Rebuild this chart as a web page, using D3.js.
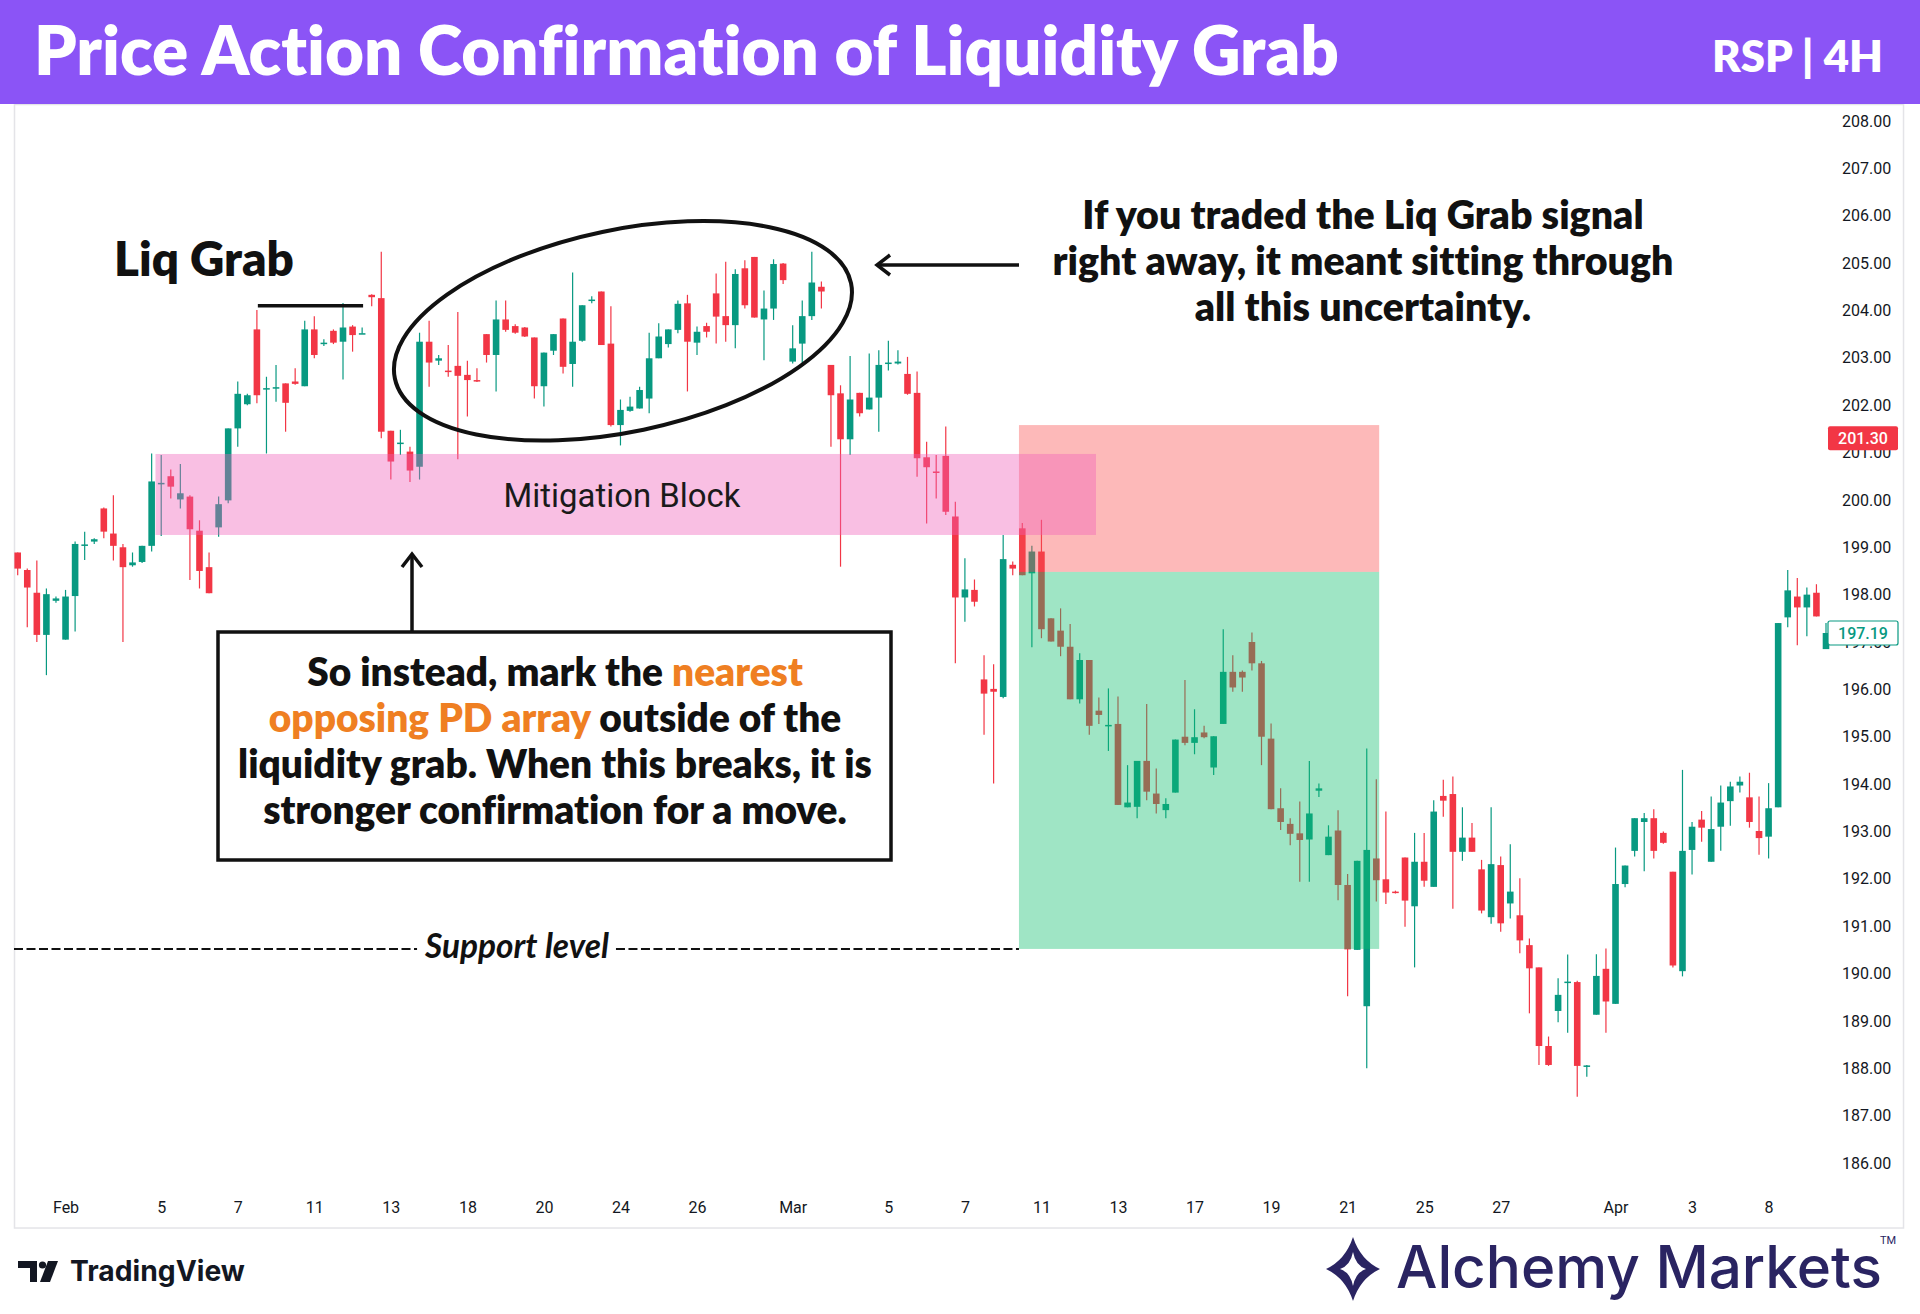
<!DOCTYPE html>
<html>
<head>
<meta charset="utf-8">
<script src="https://cdnjs.cloudflare.com/ajax/libs/d3/7.8.5/d3.min.js"></script>
<style>
  body { margin: 0; background: #fff; }
  svg { display: block; }
  text { white-space: pre; font-variant-ligatures: none; }
</style>
</head>
<body>
<svg id="chart" width="1920" height="1314"></svg>
<script>
// RSP 4H candles (4 bars per trading day)
const opens = [
  198.89,198.52,198.04,197.15,197.87,197.05,197.97,199.05,199.12,199.82,
  199.29,199.00,198.62,198.69,199.03,200.35,200.50,200.01,200.07,199.35,
  198.58,199.42,199.99,201.51,202.02,203.60,202.35,202.37,202.46,202.50,
  202.40,203.60,203.31,203.57,203.34,203.66,203.52,204.33,204.26,201.46,
  201.20,201.02,200.70,203.34,202.94,202.73,202.83,202.64,202.53,203.50,
  203.06,203.81,203.67,203.64,203.43,202.40,203.15,203.83,202.87,203.36,
  204.20,204.40,203.30,201.58,201.88,201.93,202.14,202.99,203.29,203.59,
  204.15,203.32,203.67,204.36,203.88,203.69,204.89,205.13,203.81,204.04,
  204.99,202.92,203.30,203.88,204.50,202.85,202.25,201.28,202.26,201.91,
  202.16,202.87,202.88,202.66,202.26,200.90,200.60,200.93,199.65,197.94,
  198.10,196.21,196.01,195.84,198.63,199.40,198.45,198.91,197.50,197.24,
  196.90,195.79,196.62,195.55,195.24,195.27,193.51,193.52,194.49,193.80,
  193.45,193.82,195.00,194.87,195.09,194.35,195.27,196.37,196.37,197.00,
  196.55,194.96,193.49,193.16,192.96,192.83,193.86,192.50,193.02,191.87,
  190.50,189.31,192.43,191.99,191.73,192.45,191.42,192.36,191.83,193.75,
  193.79,192.57,192.87,192.20,191.19,192.29,191.48,191.23,190.60,190.13,
  188.47,189.21,189.82,189.82,188.05,189.13,190.10,189.36,191.89,192.59,
  193.20,193.28,192.97,192.15,190.05,192.61,193.25,192.36,193.10,193.64,
  193.97,193.72,193.01,192.89,193.51,197.52,197.96,197.73,198.04,196.85
];
const highs = [
  198.89,198.55,198.72,198.13,197.96,198.10,199.12,199.33,199.19,199.84,
  200.10,199.07,198.89,199.03,200.98,200.95,200.64,200.76,200.10,199.57,
  198.89,200.07,201.51,202.50,202.24,204.01,202.60,202.85,202.46,202.78,
  203.78,203.88,203.39,203.60,204.16,203.69,203.64,204.34,205.24,201.46,
  201.48,201.12,203.53,203.78,203.06,203.27,203.97,202.94,202.78,203.50,
  204.21,204.21,203.71,203.65,203.43,203.11,203.50,203.83,204.80,204.11,
  204.30,204.40,204.09,202.12,202.18,202.39,203.53,203.73,203.60,204.21,
  204.33,203.66,203.74,204.78,205.03,204.87,205.06,205.13,204.42,205.08,
  205.00,203.69,204.21,205.24,204.61,202.85,202.42,203.04,202.26,203.09,
  203.16,203.36,203.16,203.02,202.71,201.23,200.95,201.55,199.96,198.77,
  198.32,196.72,196.53,199.26,198.70,199.51,199.03,199.58,197.50,197.71,
  197.38,196.76,196.62,195.83,196.02,195.85,194.40,194.49,195.69,194.33,
  193.70,194.94,196.20,195.58,195.23,195.01,197.27,196.72,196.40,197.20,
  196.60,195.28,193.91,193.28,193.63,194.49,194.01,193.13,193.45,192.10,
  192.38,194.75,194.10,193.42,191.75,192.45,192.97,192.97,193.66,194.09,
  194.16,193.51,193.18,192.40,193.51,192.47,192.73,192.01,190.74,190.13,
  188.67,189.90,190.40,189.85,188.07,190.41,190.53,192.66,192.28,193.28,
  193.39,193.47,193.00,192.15,194.30,193.20,193.43,193.74,193.97,194.05,
  194.16,194.24,193.74,194.02,197.40,198.52,198.35,198.15,198.22,197.40
];
const lows = [
  198.41,197.31,197.00,196.30,197.83,197.05,197.22,198.73,199.07,199.19,
  198.72,197.00,198.59,198.67,198.91,199.24,200.03,199.82,198.31,198.13,
  198.03,199.22,199.93,201.12,202.00,202.04,200.98,202.07,201.44,202.43,
  202.40,202.99,203.25,203.29,202.54,203.13,203.51,204.09,201.30,200.43,
  200.95,200.38,200.43,202.39,202.85,202.60,200.86,201.76,202.49,202.90,
  202.29,203.55,203.51,203.44,202.14,201.97,203.06,202.67,202.39,203.34,
  204.15,203.27,201.55,201.15,201.86,201.93,201.83,202.99,203.22,203.52,
  202.29,203.06,203.43,203.30,203.34,203.20,204.04,203.85,202.95,203.80,
  204.56,202.88,202.87,203.80,204.04,201.12,198.59,200.95,201.76,201.91,
  201.44,202.73,202.86,202.22,200.49,199.50,200.03,199.68,196.55,197.43,
  197.75,195.04,194.01,195.81,198.41,198.41,196.89,197.08,197.01,196.70,
  195.79,195.70,195.04,195.27,194.70,193.56,193.51,193.28,193.66,193.38,
  193.28,193.82,194.82,194.63,194.97,194.19,195.27,195.95,195.95,196.40,
  194.40,193.47,193.03,192.71,191.94,191.94,193.73,192.50,191.55,189.52,
  190.50,188.00,191.52,191.47,191.69,190.99,190.13,191.83,191.83,193.31,
  191.37,192.38,192.57,191.27,191.05,190.88,191.16,190.43,189.16,188.07,
  188.05,188.97,188.75,187.40,187.82,189.13,188.75,189.36,191.82,192.47,
  192.16,192.43,192.74,190.13,189.94,192.09,192.78,192.36,192.59,193.12,
  193.82,193.08,192.51,192.43,193.51,197.31,196.93,197.12,197.54,196.85
];
const closes = [
  198.55,198.15,197.15,198.01,197.92,197.96,199.07,199.06,199.17,199.33,
  199.03,198.58,198.68,199.03,200.39,200.36,200.28,200.14,199.38,198.50,
  198.03,199.91,201.51,202.24,202.21,202.21,202.36,202.38,202.05,202.45,
  203.60,203.06,203.32,203.32,203.64,203.48,203.52,204.28,201.44,200.81,
  201.21,200.62,203.34,202.90,202.99,202.72,202.62,202.53,202.50,203.06,
  203.81,203.59,203.53,203.45,202.40,203.11,203.50,202.81,203.34,204.11,
  204.23,203.27,201.58,201.90,201.97,202.32,202.99,203.45,203.60,204.14,
  203.34,203.55,203.55,203.87,203.69,204.77,204.11,203.85,204.04,204.98,
  204.64,203.20,203.88,204.59,204.40,202.21,201.28,202.12,201.83,202.16,
  202.85,202.90,202.92,202.24,200.88,200.69,200.59,199.75,197.94,198.11,
  197.85,195.91,195.95,198.75,198.55,198.41,198.91,197.27,197.01,196.90,
  195.79,196.62,195.23,195.46,195.25,193.56,193.61,194.49,193.84,193.58,
  193.58,194.94,194.87,194.99,194.99,195.01,196.37,196.04,196.25,196.55,
  195.00,193.47,193.20,192.95,192.82,193.38,193.91,192.89,191.87,190.51,
  192.38,192.61,191.97,191.71,191.71,191.54,192.36,191.96,193.42,193.65,
  192.57,192.87,192.57,191.33,192.31,191.06,191.73,190.70,190.11,188.47,
  188.07,189.55,189.83,188.05,188.06,189.95,189.41,191.89,192.28,193.28,
  193.28,192.59,192.76,190.17,192.59,193.10,193.08,193.05,193.61,193.95,
  194.05,193.20,192.86,193.49,197.40,198.09,197.73,198.00,197.54,197.19
];

// date axis: label text and the bar it sits under
const dateLabels = ["Feb","5","7","11","13","18","20","24","26","Mar","5","7","11","13","17","19","21","25","27","Apr","3","8"];
const dateBars   = [5,15,23,31,39,47,55,63,71,81,91,99,107,115,123,131,139,147,155,167,175,183];
const priceTicks = [186,187,188,189,190,191,192,193,194,195,196,197,198,199,200,201,202,203,204,205,206,207,208];
const markPrice = 201.30;
const lastPrice = 197.19;

// annotation levels (bar index / price)
const liqLevel = 204.1;
const mitigation = { from: 14.4, to: 112.7, low: 199.26, high: 200.97 };
const position = { from: 104.65, to: 142.3, stop: 201.58, entry: 198.48, target: 190.52 };

const candles = opens.map((o, i) => ({ i, o, h: highs[i], l: lows[i], c: closes[i] }));

const up = "#089981", down = "#f23645", ink = "#111111";
const svg = d3.select("#chart");

const x = d3.scaleLinear().domain([0, candles.length - 1]).range([17.7, 1826]);
const y = d3.scaleLinear().domain([186, 208]).range([1163, 121]);

function fit(sel, width) {
  const len = sel.node().getComputedTextLength();
  sel.attr("font-size", +sel.attr("font-size") * width / len);
}

svg.append("rect").attr("width", 1920).attr("height", 1314).attr("fill", "#fff");

// chart frame
svg.append("rect")
  .attr("x", 14.5).attr("y", 104.5).attr("width", 1889).attr("height", 1123.5)
  .attr("fill", "none").attr("stroke", "#e4e4e8").attr("stroke-width", 1.5);

// candles
const cg = svg.append("g").selectAll("g").data(candles).enter().append("g");
cg.append("line")
  .attr("x1", d => x(d.i)).attr("x2", d => x(d.i))
  .attr("y1", d => y(d.h)).attr("y2", d => y(d.l))
  .attr("stroke", d => d.c >= d.o ? up : down).attr("stroke-width", 1.2);
cg.append("rect")
  .attr("x", d => x(d.i) - 3.3).attr("width", 6.6)
  .attr("y", d => y(Math.max(d.o, d.c)))
  .attr("height", d => Math.max(1.5, Math.abs(y(d.o) - y(d.c))))
  .attr("fill", d => d.c >= d.o ? up : down);

// long/short position boxes (drawn over candles, translucent)
svg.append("rect")
  .attr("x", x(position.from)).attr("width", x(position.to) - x(position.from))
  .attr("y", y(position.stop)).attr("height", y(position.entry) - y(position.stop))
  .attr("fill", "rgb(250,80,80)").attr("fill-opacity", 0.4);
svg.append("rect")
  .attr("x", x(position.from)).attr("width", x(position.to) - x(position.from))
  .attr("y", y(position.entry)).attr("height", y(position.target) - y(position.entry))
  .attr("fill", "rgb(15,190,110)").attr("fill-opacity", 0.4);

// mitigation block
svg.append("rect")
  .attr("x", x(mitigation.from)).attr("width", x(mitigation.to) - x(mitigation.from))
  .attr("y", y(mitigation.high)).attr("height", y(mitigation.low) - y(mitigation.high))
  .attr("fill", "rgb(240,95,185)").attr("fill-opacity", 0.4);
const mt = svg.append("text").text("Mitigation Block")
  .attr("x", 622).attr("y", 507).attr("text-anchor", "middle")
  .attr("font-family", "Roboto").attr("font-size", 32).attr("fill", "#1a1a1a");
fit(mt, 237);

// price axis
const yAxis = svg.append("g").attr("transform", "translate(1842,0)")
  .call(d3.axisRight(y).tickValues(priceTicks).tickSize(0).tickPadding(0).tickFormat(d3.format(".2f")));
yAxis.select(".domain").remove();
yAxis.selectAll("text").attr("font-family", "Roboto").attr("font-size", 16).attr("fill", "#131722");

// time axis
const xAxis = svg.append("g").attr("transform", "translate(0,1202)")
  .call(d3.axisBottom(x).tickValues(dateBars).tickSize(0).tickPadding(0)
    .tickFormat((d, i) => dateLabels[i]));
xAxis.select(".domain").remove();
xAxis.selectAll("text").attr("font-family", "Roboto").attr("font-size", 16).attr("fill", "#131722");

// price tags on the axis
function tag(price, fill, stroke, color) {
  const g = svg.append("g").attr("transform", `translate(1828,${y(price)})`);
  g.append("rect").attr("x", 0).attr("y", -12).attr("width", 70).attr("height", 24).attr("rx", 2)
    .attr("fill", fill).attr("stroke", stroke).attr("stroke-width", 1.2);
  g.append("text").text(d3.format(".2f")(price)).attr("x", 35).attr("y", 6)
    .attr("text-anchor", "middle").attr("font-family", "Roboto").attr("font-size", 16)
    .attr("fill", color).attr("font-weight", 500);
}
tag(markPrice, down, "none", "#fff");
tag(lastPrice, "#fff", up, up);

// Liq Grab level + label
svg.append("line")
  .attr("x1", x(25.1)).attr("x2", x(36.1)).attr("y1", y(liqLevel)).attr("y2", y(liqLevel))
  .attr("stroke", ink).attr("stroke-width", 3.5);
const lg = svg.append("text").text("Liq Grab").attr("x", 114).attr("y", 276)
  .attr("font-family", "Lato").attr("font-weight", 800).attr("font-size", 44).attr("fill", ink);
fit(lg, 180);

// ellipse around the chop
svg.append("ellipse")
  .attr("cx", 0).attr("cy", 0).attr("rx", 233).attr("ry", 101)
  .attr("transform", `translate(${x(63.26)},${y(203.57)}) rotate(-11.8)`)
  .attr("fill", "none").attr("stroke", ink).attr("stroke-width", 4);

// left-pointing arrow
const ay = 265;
svg.append("line").attr("x1", 1019).attr("x2", 878).attr("y1", ay).attr("y2", ay)
  .attr("stroke", ink).attr("stroke-width", 3.5);
svg.append("path").attr("d", `M${890},${ay - 10} L${877},${ay} L${890},${ay + 10}`)
  .attr("fill", "none").attr("stroke", ink).attr("stroke-width", 3.5);

// right side explanation
const rightLines = ["If you traded the Liq Grab signal", "right away, it meant sitting through", "all this uncertainty."];
const rt = svg.append("g").selectAll("text").data(rightLines).enter().append("text")
  .text(d => d).attr("x", 1363).attr("y", (d, i) => 229 + i * 46)
  .attr("text-anchor", "middle").attr("font-family", "Lato").attr("font-weight", 800)
  .attr("font-size", 32).attr("fill", ink);
const rScale = 621 / rt.nodes()[1].getComputedTextLength();
rt.attr("font-size", 32 * rScale);

// up arrow to the block
svg.append("line").attr("x1", 412).attr("x2", 412).attr("y1", 632).attr("y2", 555)
  .attr("stroke", ink).attr("stroke-width", 3.5);
svg.append("path").attr("d", "M402,567 L412,554 L422,567")
  .attr("fill", "none").attr("stroke", ink).attr("stroke-width", 3.5);

// boxed note
svg.append("rect").attr("x", 218).attr("y", 632).attr("width", 673).attr("height", 228)
  .attr("fill", "#fff").attr("stroke", ink).attr("stroke-width", 3.5);
const orange = "#ef7f22";
const boxLines = [
  [["So instead, mark the ", ink], ["nearest", orange]],
  [["opposing PD array", orange], [" outside of the", ink]],
  [["liquidity grab. When this breaks, it is", ink]],
  [["stronger confirmation for a move.", ink]]
];
const bt = svg.append("g").selectAll("text").data(boxLines).enter().append("text")
  .attr("x", 555).attr("y", (d, i) => 686 + i * 46)
  .attr("text-anchor", "middle").attr("font-family", "Lato").attr("font-weight", 800)
  .attr("font-size", 32);
bt.selectAll("tspan").data(d => d).enter().append("tspan")
  .text(d => d[0]).attr("fill", d => d[1]);
const bScale = 634 / bt.nodes()[2].getComputedTextLength();
bt.attr("font-size", 32 * bScale);

// support level
const sy = y(position.target);
const st = svg.append("text").text("Support level").attr("x", 517).attr("y", sy + 9)
  .attr("text-anchor", "middle").attr("font-family", "Lato").attr("font-style", "italic")
  .attr("font-weight", 700).attr("font-size", 26).attr("fill", ink);
fit(st, 184);
const sb = st.node().getBBox();
[[14, sb.x - 7], [sb.x + sb.width + 7, x(position.from)]].forEach(([a, b]) => {
  svg.append("line").attr("x1", a).attr("x2", b).attr("y1", sy).attr("y2", sy)
    .attr("stroke", ink).attr("stroke-width", 2).attr("stroke-dasharray", "9 3.5");
});

// header
svg.append("rect").attr("width", 1920).attr("height", 104).attr("fill", "#8b54f6");
const title = svg.append("text").text("Price Action Confirmation of Liquidity Grab")
  .attr("x", 34).attr("y", 75).attr("font-family", "Lato").attr("font-weight", 800)
  .attr("font-size", 60).attr("fill", "#fff");
fit(title, 1305);
const sym = svg.append("text").text("RSP | 4H").attr("x", 1883).attr("y", 72)
  .attr("text-anchor", "end").attr("font-family", "Lato").attr("font-weight", 800)
  .attr("font-size", 46).attr("fill", "#fff");
fit(sym, 171);

// footer: TradingView mark
const tv = svg.append("g").attr("fill", "#131722");
tv.append("rect").attr("x", 18).attr("y", 1261).attr("width", 19).attr("height", 7);
tv.append("rect").attr("x", 30).attr("y", 1261).attr("width", 7).attr("height", 21);
tv.append("circle").attr("cx", 42.5).attr("cy", 1265).attr("r", 3.6);
tv.append("path").attr("d", "M48,1261 L58,1261 L50,1282 L40,1282 Z");
const tvt = svg.append("text").text("TradingView").attr("x", 70).attr("y", 1281)
  .attr("font-family", "Inter").attr("font-weight", 700).attr("font-size", 28).attr("fill", "#131722");
fit(tvt, 175);

// footer: Alchemy Markets
const navy = "#2a2462";
function star(cx, cy, w, h, k) {
  return `M${cx},${cy - h} Q${cx + w * k},${cy - h * k} ${cx + w},${cy} Q${cx + w * k},${cy + h * k} ${cx},${cy + h}` +
    ` Q${cx - w * k},${cy + h * k} ${cx - w},${cy} Q${cx - w * k},${cy - h * k} ${cx},${cy - h} Z`;
}
svg.append("path").attr("d", star(1353, 1269, 27, 32, 0.28)).attr("fill", navy);
svg.append("path").attr("d", star(1353, 1269, 13, 17, 0.2)).attr("fill", "#fff");
const am = svg.append("text").text("Alchemy Markets").attr("x", 1396).attr("y", 1288)
  .attr("font-family", "Inter").attr("font-weight", 500).attr("font-size", 64).attr("fill", navy);
fit(am, 486);
svg.append("text").text("TM").attr("x", 1880).attr("y", 1244)
  .attr("font-family", "Roboto").attr("font-size", 11).attr("fill", navy);
</script>
</body>
</html>
